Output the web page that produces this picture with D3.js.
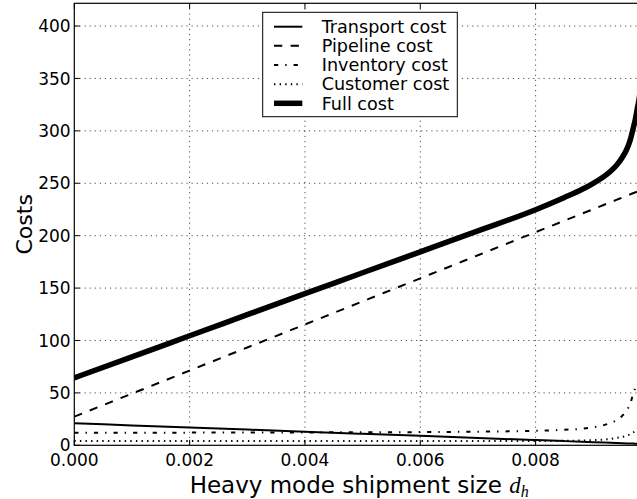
<!DOCTYPE html>
<html>
<head>
<meta charset="utf-8">
<script src="https://cdn.jsdelivr.net/npm/d3@7/dist/d3.min.js"></script>
<style>
  html, body { margin: 0; padding: 0; background: #fff; }
  svg { display: block; }
  text { font-family: "DejaVu Sans", sans-serif; fill: #000; }
</style>
</head>
<body>
<svg id="chart" width="637" height="499"></svg>
<script>
// ---- data ----
const xValues       = [0, 0.001, 0.002, 0.003, 0.004, 0.005, 0.006, 0.007, 0.008, 0.0085, 0.0088, 0.009, 0.0092, 0.0093, 0.0094, 0.0095, 0.0096, 0.00965, 0.0097, 0.00973, 0.00976, 0.0098, 0.00985];
const transportCost = [21, 19, 17, 15, 13, 11, 9, 7, 5, 4, 3.4, 3, 2.6, 2.4, 2.2, 2, 1.8, 1.7, 1.6, 1.5, 1.5, 1.4, 1.3];
const pipelineCost  = [27.3, 49.3, 71.3, 93.3, 115.3, 137.3, 159.3, 181.3, 203.3, 214.3, 220.9, 225.3, 229.7, 231.9, 234.1, 236.3, 238.5, 239.6, 240.7, 241.4, 242, 242.9, 244];
const inventoryCost = [12, 12, 12.1, 12.2, 12.3, 12.4, 12.6, 13, 13.8, 14.8, 15.8, 17.2, 19.5, 21.3, 23.8, 28, 35, 41, 51, 54.5, 58, 66, 80];
const customerCost  = [4.1, 4.1, 4.1, 4.1, 4.1, 4.1, 4.1, 4.1, 4.1, 4.3, 4.6, 5, 5.6, 6.2, 7, 8, 9.5, 10.8, 12.5, 13.8, 15.5, 18, 23];
const fullCost      = [64.4, 84.4, 104.5, 124.6, 144.7, 164.6, 184.6, 204.6, 224.8, 236.5, 244, 250, 257, 261.5, 267, 274.3, 284.8, 293, 304, 311, 320, 332, 355];
const seriesNames   = ["Transport cost", "Pipeline cost", "Inventory cost", "Customer cost", "Full cost"];
const xTickValues   = [0, 0.002, 0.004, 0.006, 0.008];
const yTickValues   = [0, 50, 100, 150, 200, 250, 300, 350, 400];
const xDomain       = [0, 0.00988];
const yDomain       = [0, 421.7];
const xLabelText    = "Heavy mode shipment size ";
const yLabelText    = "Costs";

// ---- layout ----
const svg = d3.select("#chart");
const L = 74.3, R = 644, T = 3.3, B = 445.3;
const x = d3.scaleLinear().domain(xDomain).range([L, R]);
const y = d3.scaleLinear().domain(yDomain).range([B, T]);

const styles = [
  { width: 2,   dash: null },
  { width: 2,   dash: "8.3,8.3" },
  { width: 2,   dash: "4.2,7,1.4,7" },
  { width: 2,   dash: "1.4,4.2" },
  { width: 5.5, dash: null }
];
const seriesValues = [transportCost, pipelineCost, inventoryCost, customerCost, fullCost];

svg.append("defs").append("clipPath").attr("id", "plotclip")
  .append("rect").attr("x", L).attr("y", T).attr("width", R - L).attr("height", B - T);

// grid
const grid = svg.append("g");
grid.selectAll("line.gx").data(xTickValues.filter(v => v > 0)).join("line")
  .attr("x1", d => x(d)).attr("x2", d => x(d)).attr("y1", T).attr("y2", B)
  .attr("stroke", "#222").attr("stroke-width", 0.8).attr("stroke-dasharray", "1.2,3.9");
grid.selectAll("line.gy").data(yTickValues.filter(v => v > 0)).join("line")
  .attr("y1", d => y(d)).attr("y2", d => y(d)).attr("x1", L).attr("x2", R)
  .attr("stroke", "#222").attr("stroke-width", 0.8).attr("stroke-dasharray", "1.2,3.9");

// lines
const lineGen = vals => d3.line()
  .x((d, i) => x(xValues[i]))
  .y(d => y(d))
  .curve(d3.curveMonotoneX)(vals);

const plot = svg.append("g").attr("clip-path", "url(#plotclip)");
seriesValues.forEach((vals, k) => {
  plot.append("path")
    .attr("d", lineGen(vals))
    .attr("fill", "none")
    .attr("stroke", "#000")
    .attr("stroke-width", styles[k].width)
    .attr("stroke-dasharray", styles[k].dash)
    .attr("stroke-linecap", "butt")
    .attr("stroke-linejoin", "round");
});

// frame
svg.append("rect").attr("x", L).attr("y", T).attr("width", R - L).attr("height", B - T)
  .attr("fill", "none").attr("stroke", "#000").attr("stroke-width", 1.2);

// ticks (inward, all sides)
const tickLen = 5.5;
const ticks = svg.append("g").attr("stroke", "#000").attr("stroke-width", 1);
xTickValues.forEach(v => {
  ticks.append("line").attr("x1", x(v)).attr("x2", x(v)).attr("y1", B).attr("y2", B - tickLen);
  ticks.append("line").attr("x1", x(v)).attr("x2", x(v)).attr("y1", T).attr("y2", T + tickLen);
});
yTickValues.forEach(v => {
  ticks.append("line").attr("y1", y(v)).attr("y2", y(v)).attr("x1", L).attr("x2", L + tickLen);
  ticks.append("line").attr("y1", y(v)).attr("y2", y(v)).attr("x1", R).attr("x2", R - tickLen);
});

// tick labels
const fmtX = d3.format(".3f");
svg.append("g").selectAll("text").data(xTickValues).join("text")
  .attr("x", d => x(d)).attr("y", B + 20.5)
  .attr("text-anchor", "middle").attr("font-size", 17)
  .text(d => fmtX(d));
svg.append("g").selectAll("text").data(yTickValues).join("text")
  .attr("x", L - 3.6).attr("y", d => y(d) + 6.1)
  .attr("text-anchor", "end").attr("font-size", 17)
  .text(d => d);

// axis labels
const xl = svg.append("text")
  .attr("x", (L + R) / 2).attr("y", 493)
  .attr("text-anchor", "middle").attr("font-size", 23);
xl.append("tspan").text(xLabelText);
xl.append("tspan").attr("font-family", "Liberation Serif, serif").attr("font-style", "italic").text("d");
xl.append("tspan").attr("font-family", "Liberation Serif, serif").attr("font-style", "italic")
  .attr("font-size", 16).attr("dy", 4).text("h");

svg.append("text")
  .attr("transform", `translate(31.7, ${(T + B) / 2}) rotate(-90)`)
  .attr("text-anchor", "middle").attr("font-size", 22)
  .text(yLabelText);

// legend
const lg = svg.append("g");
const lgX = 262.7, lgY = 12.3, lgW = 194.6, lgH = 104.4;
lg.append("rect").attr("x", lgX).attr("y", lgY).attr("width", lgW).attr("height", lgH)
  .attr("fill", "#fff").attr("stroke", "#000").attr("stroke-width", 1);
seriesNames.forEach((name, k) => {
  const cy = 26.7 + k * 19.15;
  lg.append("line").attr("x1", 274).attr("x2", 302.3).attr("y1", cy).attr("y2", cy)
    .attr("stroke", "#000").attr("stroke-width", styles[k].width)
    .attr("stroke-dasharray", styles[k].dash).attr("stroke-linecap", "butt");
  lg.append("text").attr("x", 321.7).attr("y", cy + 6.2)
    .attr("font-size", 17.6).text(name);
});
</script>
</body>
</html>
